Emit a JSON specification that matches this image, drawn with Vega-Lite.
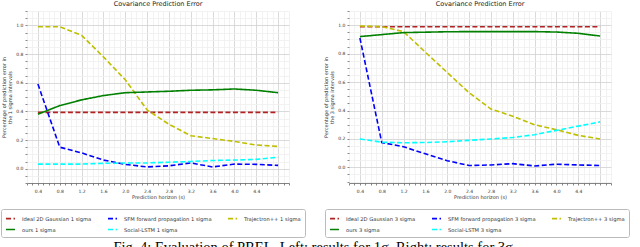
{
  "$schema": "https://vega.github.io/schema/vega-lite/v6.json",
  "background": "white",
  "padding": 0,
  "spacing": 17,
  "title": {"text": "Fig. 4: Evaluation of PREL. Left: results for 1σ. Right: results for 3σ.", "orient": "bottom", "anchor": "middle", "font": "Liberation Serif", "fontSize": 14.5, "fontWeight": "normal", "color": "#000", "offset": 3, "baseline": "top"},
  "datasets": {
    "left": [
      {"s": "Ideal 2D Gaussian 1 sigma", "x": 0.4, "y": 0.393}, {"s": "Ideal 2D Gaussian 1 sigma", "x": 0.8, "y": 0.393}, {"s": "Ideal 2D Gaussian 1 sigma", "x": 1.2, "y": 0.393}, {"s": "Ideal 2D Gaussian 1 sigma", "x": 1.6, "y": 0.393}, {"s": "Ideal 2D Gaussian 1 sigma", "x": 2.0, "y": 0.393}, {"s": "Ideal 2D Gaussian 1 sigma", "x": 2.4, "y": 0.393}, {"s": "Ideal 2D Gaussian 1 sigma", "x": 2.8, "y": 0.393}, {"s": "Ideal 2D Gaussian 1 sigma", "x": 3.2, "y": 0.393}, {"s": "Ideal 2D Gaussian 1 sigma", "x": 3.6, "y": 0.393}, {"s": "Ideal 2D Gaussian 1 sigma", "x": 4.0, "y": 0.393}, {"s": "Ideal 2D Gaussian 1 sigma", "x": 4.4, "y": 0.393}, {"s": "Ideal 2D Gaussian 1 sigma", "x": 4.8, "y": 0.393},
      {"s": "SFM forward propagation 1 sigma", "x": 0.4, "y": 0.59}, {"s": "SFM forward propagation 1 sigma", "x": 0.8, "y": 0.15}, {"s": "SFM forward propagation 1 sigma", "x": 1.2, "y": 0.11}, {"s": "SFM forward propagation 1 sigma", "x": 1.6, "y": 0.06}, {"s": "SFM forward propagation 1 sigma", "x": 2.0, "y": 0.03}, {"s": "SFM forward propagation 1 sigma", "x": 2.4, "y": 0.012}, {"s": "SFM forward propagation 1 sigma", "x": 2.8, "y": 0.02}, {"s": "SFM forward propagation 1 sigma", "x": 3.2, "y": 0.04}, {"s": "SFM forward propagation 1 sigma", "x": 3.6, "y": 0.012}, {"s": "SFM forward propagation 1 sigma", "x": 4.0, "y": 0.032}, {"s": "SFM forward propagation 1 sigma", "x": 4.4, "y": 0.03}, {"s": "SFM forward propagation 1 sigma", "x": 4.8, "y": 0.023},
      {"s": "Trajectron++ 1 sigma", "x": 0.4, "y": 0.99}, {"s": "Trajectron++ 1 sigma", "x": 0.8, "y": 0.99}, {"s": "Trajectron++ 1 sigma", "x": 1.2, "y": 0.93}, {"s": "Trajectron++ 1 sigma", "x": 1.6, "y": 0.78}, {"s": "Trajectron++ 1 sigma", "x": 2.0, "y": 0.62}, {"s": "Trajectron++ 1 sigma", "x": 2.4, "y": 0.41}, {"s": "Trajectron++ 1 sigma", "x": 2.8, "y": 0.31}, {"s": "Trajectron++ 1 sigma", "x": 3.2, "y": 0.23}, {"s": "Trajectron++ 1 sigma", "x": 3.6, "y": 0.21}, {"s": "Trajectron++ 1 sigma", "x": 4.0, "y": 0.19}, {"s": "Trajectron++ 1 sigma", "x": 4.4, "y": 0.165}, {"s": "Trajectron++ 1 sigma", "x": 4.8, "y": 0.155},
      {"s": "ours 1 sigma", "x": 0.4, "y": 0.38}, {"s": "ours 1 sigma", "x": 0.8, "y": 0.44}, {"s": "ours 1 sigma", "x": 1.2, "y": 0.48}, {"s": "ours 1 sigma", "x": 1.6, "y": 0.51}, {"s": "ours 1 sigma", "x": 2.0, "y": 0.53}, {"s": "ours 1 sigma", "x": 2.4, "y": 0.535}, {"s": "ours 1 sigma", "x": 2.8, "y": 0.54}, {"s": "ours 1 sigma", "x": 3.2, "y": 0.547}, {"s": "ours 1 sigma", "x": 3.6, "y": 0.55}, {"s": "ours 1 sigma", "x": 4.0, "y": 0.556}, {"s": "ours 1 sigma", "x": 4.4, "y": 0.547}, {"s": "ours 1 sigma", "x": 4.8, "y": 0.53},
      {"s": "Social-LSTM 1 sigma", "x": 0.4, "y": 0.032}, {"s": "Social-LSTM 1 sigma", "x": 0.8, "y": 0.032}, {"s": "Social-LSTM 1 sigma", "x": 1.2, "y": 0.032}, {"s": "Social-LSTM 1 sigma", "x": 1.6, "y": 0.037}, {"s": "Social-LSTM 1 sigma", "x": 2.0, "y": 0.04}, {"s": "Social-LSTM 1 sigma", "x": 2.4, "y": 0.04}, {"s": "Social-LSTM 1 sigma", "x": 2.8, "y": 0.045}, {"s": "Social-LSTM 1 sigma", "x": 3.2, "y": 0.05}, {"s": "Social-LSTM 1 sigma", "x": 3.6, "y": 0.057}, {"s": "Social-LSTM 1 sigma", "x": 4.0, "y": 0.06}, {"s": "Social-LSTM 1 sigma", "x": 4.4, "y": 0.065}, {"s": "Social-LSTM 1 sigma", "x": 4.8, "y": 0.08}
    ],
    "right": [
      {"s": "Ideal 2D Gaussian 3 sigma", "x": 0.4, "y": 0.989}, {"s": "Ideal 2D Gaussian 3 sigma", "x": 0.8, "y": 0.989}, {"s": "Ideal 2D Gaussian 3 sigma", "x": 1.2, "y": 0.989}, {"s": "Ideal 2D Gaussian 3 sigma", "x": 1.6, "y": 0.989}, {"s": "Ideal 2D Gaussian 3 sigma", "x": 2.0, "y": 0.989}, {"s": "Ideal 2D Gaussian 3 sigma", "x": 2.4, "y": 0.989}, {"s": "Ideal 2D Gaussian 3 sigma", "x": 2.8, "y": 0.989}, {"s": "Ideal 2D Gaussian 3 sigma", "x": 3.2, "y": 0.989}, {"s": "Ideal 2D Gaussian 3 sigma", "x": 3.6, "y": 0.989}, {"s": "Ideal 2D Gaussian 3 sigma", "x": 4.0, "y": 0.989}, {"s": "Ideal 2D Gaussian 3 sigma", "x": 4.4, "y": 0.989}, {"s": "Ideal 2D Gaussian 3 sigma", "x": 4.8, "y": 0.989},
      {"s": "SFM forward propagation 3 sigma", "x": 0.4, "y": 0.91}, {"s": "SFM forward propagation 3 sigma", "x": 0.8, "y": 0.175}, {"s": "SFM forward propagation 3 sigma", "x": 1.2, "y": 0.145}, {"s": "SFM forward propagation 3 sigma", "x": 1.6, "y": 0.095}, {"s": "SFM forward propagation 3 sigma", "x": 2.0, "y": 0.047}, {"s": "SFM forward propagation 3 sigma", "x": 2.4, "y": 0.013}, {"s": "SFM forward propagation 3 sigma", "x": 2.8, "y": 0.017}, {"s": "SFM forward propagation 3 sigma", "x": 3.2, "y": 0.026}, {"s": "SFM forward propagation 3 sigma", "x": 3.6, "y": 0.01}, {"s": "SFM forward propagation 3 sigma", "x": 4.0, "y": 0.022}, {"s": "SFM forward propagation 3 sigma", "x": 4.4, "y": 0.017}, {"s": "SFM forward propagation 3 sigma", "x": 4.8, "y": 0.013},
      {"s": "Trajectron++ 3 sigma", "x": 0.4, "y": 0.995}, {"s": "Trajectron++ 3 sigma", "x": 0.8, "y": 0.99}, {"s": "Trajectron++ 3 sigma", "x": 1.2, "y": 0.955}, {"s": "Trajectron++ 3 sigma", "x": 1.6, "y": 0.81}, {"s": "Trajectron++ 3 sigma", "x": 2.0, "y": 0.667}, {"s": "Trajectron++ 3 sigma", "x": 2.4, "y": 0.525}, {"s": "Trajectron++ 3 sigma", "x": 2.8, "y": 0.41}, {"s": "Trajectron++ 3 sigma", "x": 3.2, "y": 0.36}, {"s": "Trajectron++ 3 sigma", "x": 3.6, "y": 0.3}, {"s": "Trajectron++ 3 sigma", "x": 4.0, "y": 0.265}, {"s": "Trajectron++ 3 sigma", "x": 4.4, "y": 0.225}, {"s": "Trajectron++ 3 sigma", "x": 4.8, "y": 0.2},
      {"s": "ours 3 sigma", "x": 0.4, "y": 0.92}, {"s": "ours 3 sigma", "x": 0.8, "y": 0.934}, {"s": "ours 3 sigma", "x": 1.2, "y": 0.948}, {"s": "ours 3 sigma", "x": 1.6, "y": 0.951}, {"s": "ours 3 sigma", "x": 2.0, "y": 0.954}, {"s": "ours 3 sigma", "x": 2.4, "y": 0.955}, {"s": "ours 3 sigma", "x": 2.8, "y": 0.955}, {"s": "ours 3 sigma", "x": 3.2, "y": 0.955}, {"s": "ours 3 sigma", "x": 3.6, "y": 0.955}, {"s": "ours 3 sigma", "x": 4.0, "y": 0.952}, {"s": "ours 3 sigma", "x": 4.4, "y": 0.943}, {"s": "ours 3 sigma", "x": 4.8, "y": 0.924},
      {"s": "Social-LSTM 3 sigma", "x": 0.4, "y": 0.2}, {"s": "Social-LSTM 3 sigma", "x": 0.8, "y": 0.177}, {"s": "Social-LSTM 3 sigma", "x": 1.2, "y": 0.173}, {"s": "Social-LSTM 3 sigma", "x": 1.6, "y": 0.175}, {"s": "Social-LSTM 3 sigma", "x": 2.0, "y": 0.18}, {"s": "Social-LSTM 3 sigma", "x": 2.4, "y": 0.19}, {"s": "Social-LSTM 3 sigma", "x": 2.8, "y": 0.2}, {"s": "Social-LSTM 3 sigma", "x": 3.2, "y": 0.21}, {"s": "Social-LSTM 3 sigma", "x": 3.6, "y": 0.23}, {"s": "Social-LSTM 3 sigma", "x": 4.0, "y": 0.26}, {"s": "Social-LSTM 3 sigma", "x": 4.4, "y": 0.29}, {"s": "Social-LSTM 3 sigma", "x": 4.8, "y": 0.32}
    ]
  },
  "hconcat": [
    {
      "width": 262, "height": 172,
      "title": "Covariance Prediction Error",
      "data": {"name": "left"},
      "mark": {"type": "line", "strokeWidth": 1.6, "clip": true},
      "encoding": {
        "x": {"field": "x", "type": "quantitative", "scale": {"domain": [0.2, 5.0], "nice": false, "zero": false},
          "axis": {"title": "Prediction horizon (s)", "values": [0.2,0.3,0.4,0.5,0.6,0.7,0.8,0.9,1.0,1.1,1.2,1.3,1.4,1.5,1.6,1.7,1.8,1.9,2.0,2.1,2.2,2.3,2.4,2.5,2.6,2.7,2.8,2.9,3.0,3.1,3.2,3.3,3.4,3.5,3.6,3.7,3.8,3.9,4.0,4.1,4.2,4.3,4.4,4.5,4.6,4.7,4.8,4.9,5.0],
            "labelExpr": "round(datum.value*10) % 4 == 0 && datum.value < 4.6 ? format(datum.value, '.1f') : ''",
            "gridColor": {"condition": {"test": "round(datum.value*10) % 4 == 0", "value": "#d0d0d0"}, "value": "#efefef"}}},
        "y": {"field": "y", "type": "quantitative", "scale": {"domain": [-0.1, 1.1], "nice": false, "zero": false},
          "axis": {"title": ["Percentage of prediction error in", "the 1 sigma intervals"], "values": [-0.1,-0.05,0,0.05,0.1,0.15,0.2,0.25,0.3,0.35,0.4,0.45,0.5,0.55,0.6,0.65,0.7,0.75,0.8,0.85,0.9,0.95,1.0,1.05,1.1],
            "labelExpr": "round(datum.value*100) % 20 == 0 && datum.value > -0.01 ? format(datum.value, '.1f') : ''",
            "gridColor": {"condition": {"test": "round(datum.value*100) % 20 == 0", "value": "#d0d0d0"}, "value": "#efefef"}}},
        "color": {"field": "s", "type": "nominal", "scale": {"domain": ["Ideal 2D Gaussian 1 sigma", "ours 1 sigma", "SFM forward propagation 1 sigma", "Social-LSTM 1 sigma", "Trajectron++ 1 sigma"], "range": ["#b22222", "#008000", "#0000ff", "#00ffff", "#bfbf00"]},
          "legend": {"title": null, "orient": "none", "legendX": -26, "legendY": 198}},
        "strokeDash": {"field": "s", "type": "nominal", "scale": {"domain": ["Ideal 2D Gaussian 1 sigma", "ours 1 sigma", "SFM forward propagation 1 sigma", "Social-LSTM 1 sigma", "Trajectron++ 1 sigma"], "range": [[5, 2.5], [1, 0], [5, 2.5], [5, 2.5], [5, 2.5]]},
          "legend": {"title": null, "orient": "none", "legendX": -26, "legendY": 198}}
      }
    },
    {
      "width": 262, "height": 172,
      "title": "Covariance Prediction Error",
      "data": {"name": "right"},
      "mark": {"type": "line", "strokeWidth": 1.6, "clip": true},
      "encoding": {
        "x": {"field": "x", "type": "quantitative", "scale": {"domain": [0.2, 5.0], "nice": false, "zero": false},
          "axis": {"title": "Prediction horizon (s)", "values": [0.2,0.3,0.4,0.5,0.6,0.7,0.8,0.9,1.0,1.1,1.2,1.3,1.4,1.5,1.6,1.7,1.8,1.9,2.0,2.1,2.2,2.3,2.4,2.5,2.6,2.7,2.8,2.9,3.0,3.1,3.2,3.3,3.4,3.5,3.6,3.7,3.8,3.9,4.0,4.1,4.2,4.3,4.4,4.5,4.6,4.7,4.8,4.9,5.0],
            "labelExpr": "round(datum.value*10) % 4 == 0 && datum.value < 4.6 ? format(datum.value, '.1f') : ''",
            "gridColor": {"condition": {"test": "round(datum.value*10) % 4 == 0", "value": "#d0d0d0"}, "value": "#efefef"}}},
        "y": {"field": "y", "type": "quantitative", "scale": {"domain": [-0.11, 1.1], "nice": false, "zero": false},
          "axis": {"title": ["Percentage of prediction error in", "the 3 sigma intervals"], "values": [-0.1,-0.05,0,0.05,0.1,0.15,0.2,0.25,0.3,0.35,0.4,0.45,0.5,0.55,0.6,0.65,0.7,0.75,0.8,0.85,0.9,0.95,1.0,1.05,1.1],
            "labelExpr": "round(datum.value*100) % 20 == 0 && datum.value > -0.01 ? format(datum.value, '.1f') : ''",
            "gridColor": {"condition": {"test": "round(datum.value*100) % 20 == 0", "value": "#d0d0d0"}, "value": "#efefef"}}},
        "color": {"field": "s", "type": "nominal", "scale": {"domain": ["Ideal 2D Gaussian 3 sigma", "ours 3 sigma", "SFM forward propagation 3 sigma", "Social-LSTM 3 sigma", "Trajectron++ 3 sigma"], "range": ["#b22222", "#008000", "#0000ff", "#00ffff", "#bfbf00"]},
          "legend": {"title": null, "orient": "none", "legendX": -24, "legendY": 198}},
        "strokeDash": {"field": "s", "type": "nominal", "scale": {"domain": ["Ideal 2D Gaussian 3 sigma", "ours 3 sigma", "SFM forward propagation 3 sigma", "Social-LSTM 3 sigma", "Trajectron++ 3 sigma"], "range": [[5, 2.5], [1, 0], [5, 2.5], [5, 2.5], [5, 2.5]]},
          "legend": {"title": null, "orient": "none", "legendX": -24, "legendY": 198}}
      }
    }
  ],
  "resolve": {"scale": {"color": "independent", "strokeDash": "independent", "x": "independent", "y": "independent"}, "legend": {"color": "independent", "strokeDash": "independent"}},
  "config": {
    "font": "DejaVu Sans",
    "view": {"stroke": null},
    "title": {"fontSize": 6.5, "fontWeight": "normal", "color": "#222", "offset": 1, "anchor": "middle", "font": "DejaVu Sans"},
    "axis": {"labelFont": "DejaVu Sans", "titleFont": "DejaVu Sans", "labelFontSize": 4.5, "titleFontSize": 5, "titleFontWeight": "normal", "labelColor": "#333", "titleColor": "#333", "tickColor": "#888", "tickSize": 2, "labelOverlap": false, "labelBound": false, "labelFlush": false, "gridWidth": 0.8},
    "axisX": {"domain": true, "domainColor": "#666", "domainWidth": 0.8, "labelPadding": 3, "titlePadding": 2},
    "axisY": {"domain": false, "labelPadding": 2, "titlePadding": 3, "titleLineHeight": 6},
    "legend": {"columns": 3, "direction": "vertical", "symbolType": "stroke", "symbolSize": 80, "symbolStrokeWidth": 1.6, "labelFontSize": 5.2, "labelFont": "DejaVu Sans", "labelColor": "#333", "labelOffset": 6, "columnPadding": 12, "rowPadding": 2, "padding": 4, "strokeColor": "#bbbbbb", "fillColor": "white", "cornerRadius": 2, "labelLimit": 300}
  }
}
